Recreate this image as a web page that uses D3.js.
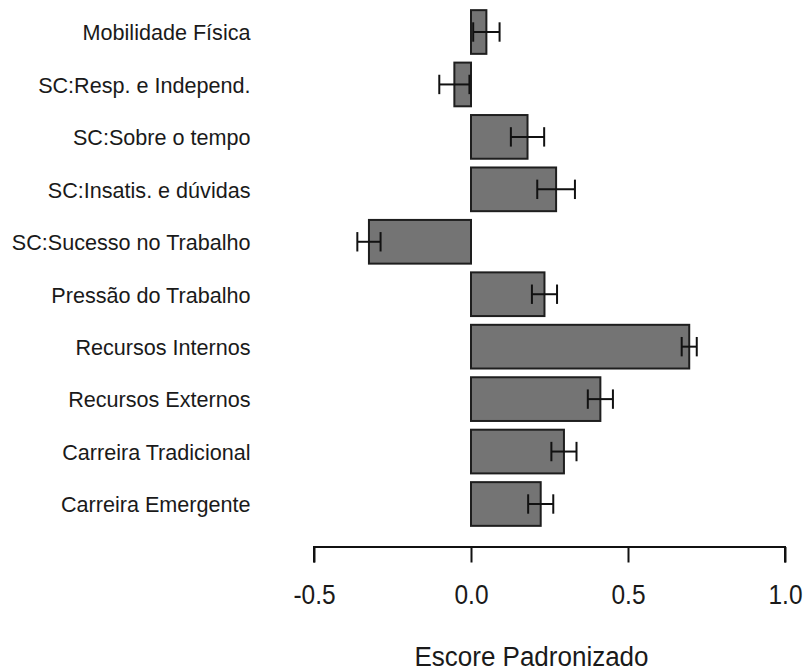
<!DOCTYPE html>
<html>
<head>
<meta charset="utf-8">
<script src="https://cdn.jsdelivr.net/npm/d3@7"></script>
<style>
  html, body { margin: 0; padding: 0; background: #fff; }
  svg { display: block; font-family: "Liberation Sans", Arial, sans-serif; }
</style>
</head>
<body>
<svg id="chart" width="805" height="671"></svg>
<script>
// Standardised scores per dimension, with standard errors
const categories = [
  "Mobilidade Física",
  "SC:Resp. e Independ.",
  "SC:Sobre o tempo",
  "SC:Insatis. e dúvidas",
  "SC:Sucesso no Trabalho",
  "Pressão do Trabalho",
  "Recursos Internos",
  "Recursos Externos",
  "Carreira Tradicional",
  "Carreira Emergente"
];
const scores = [0.049, -0.053, 0.180, 0.271, -0.325, 0.234, 0.695, 0.412, 0.296, 0.222];
const stdErrors = [0.042, 0.048, 0.053, 0.060, 0.037, 0.040, 0.024, 0.040, 0.040, 0.040];
const xTicks = [-0.5, 0.0, 0.5, 1.0];
const xTickLabels = ["-0.5", "0.0", "0.5", "1.0"];
const xTitle = "Escore Padronizado";

const rows = categories.map((c, i) => ({ cat: c, v: scores[i], se: stdErrors[i] }));

const svg = d3.select("#chart");

const x = d3.scaleLinear().domain([-0.5, 1.0]).range([314, 785]);
const y = d3.scaleBand()
  .domain(categories)
  .range([5.78, 530.22])
  .paddingInner(1 / 6)
  .paddingOuter(1 / 12);

// Bars
svg.append("g")
  .selectAll("rect")
  .data(rows)
  .join("rect")
  .attr("x", d => x(Math.min(0, d.v)))
  .attr("y", d => y(d.cat))
  .attr("width", d => Math.abs(x(d.v) - x(0)))
  .attr("height", y.bandwidth())
  .attr("fill", "#747474")
  .attr("stroke", "#1e1e1e")
  .attr("stroke-width", 2);

// Error bars
const capHalf = 9.7;
const eb = svg.append("g")
  .attr("stroke", "#111")
  .attr("stroke-width", 2)
  .selectAll("g")
  .data(rows)
  .join("g")
  .attr("transform", d => `translate(0,${y(d.cat) + y.bandwidth() / 2})`);
eb.append("line")
  .attr("x1", d => x(d.v - d.se)).attr("x2", d => x(d.v + d.se))
  .attr("y1", 0).attr("y2", 0);
eb.append("line")
  .attr("x1", d => x(d.v - d.se)).attr("x2", d => x(d.v - d.se))
  .attr("y1", -capHalf).attr("y2", capHalf);
eb.append("line")
  .attr("x1", d => x(d.v + d.se)).attr("x2", d => x(d.v + d.se))
  .attr("y1", -capHalf).attr("y2", capHalf);

// Category labels
svg.append("g")
  .selectAll("text")
  .data(rows)
  .join("text")
  .attr("transform", d => `translate(250.5,${y(d.cat) + y.bandwidth() / 2 + 8.3}) scale(1,1.03)`)
  .attr("text-anchor", "end")
  .attr("font-size", 21.6)
  .attr("fill", "#1a1a1a")
  .text(d => d.cat);

// X axis
const axis = svg.append("g")
  .attr("transform", "translate(0,547)")
  .call(d3.axisBottom(x).tickValues(xTicks).tickSize(15.5).tickPadding(0)
    .tickFormat((d, i) => xTickLabels[i]));
axis.select(".domain").attr("stroke", "#111").attr("stroke-width", 2)
  .attr("d", `M${x(-0.5)},15.5V0H${x(1.0)}V15.5`);
axis.selectAll(".tick line").attr("stroke", "#111").attr("stroke-width", 2);
axis.selectAll(".tick text")
  .attr("font-family", "'Liberation Sans', Arial, sans-serif")
  .attr("font-size", 24.5)
  .attr("fill", "#1a1a1a")
  .attr("dy", null)
  .attr("y", 0)
  .attr("transform", "translate(0,57.3) scale(1,1.15)");

// Axis title
svg.append("text")
  .attr("transform", "translate(531.5,665.5) scale(1,1.06)")
  .attr("text-anchor", "middle")
  .attr("font-size", 26)
  .attr("fill", "#1a1a1a")
  .text(xTitle);
</script>
</body>
</html>
